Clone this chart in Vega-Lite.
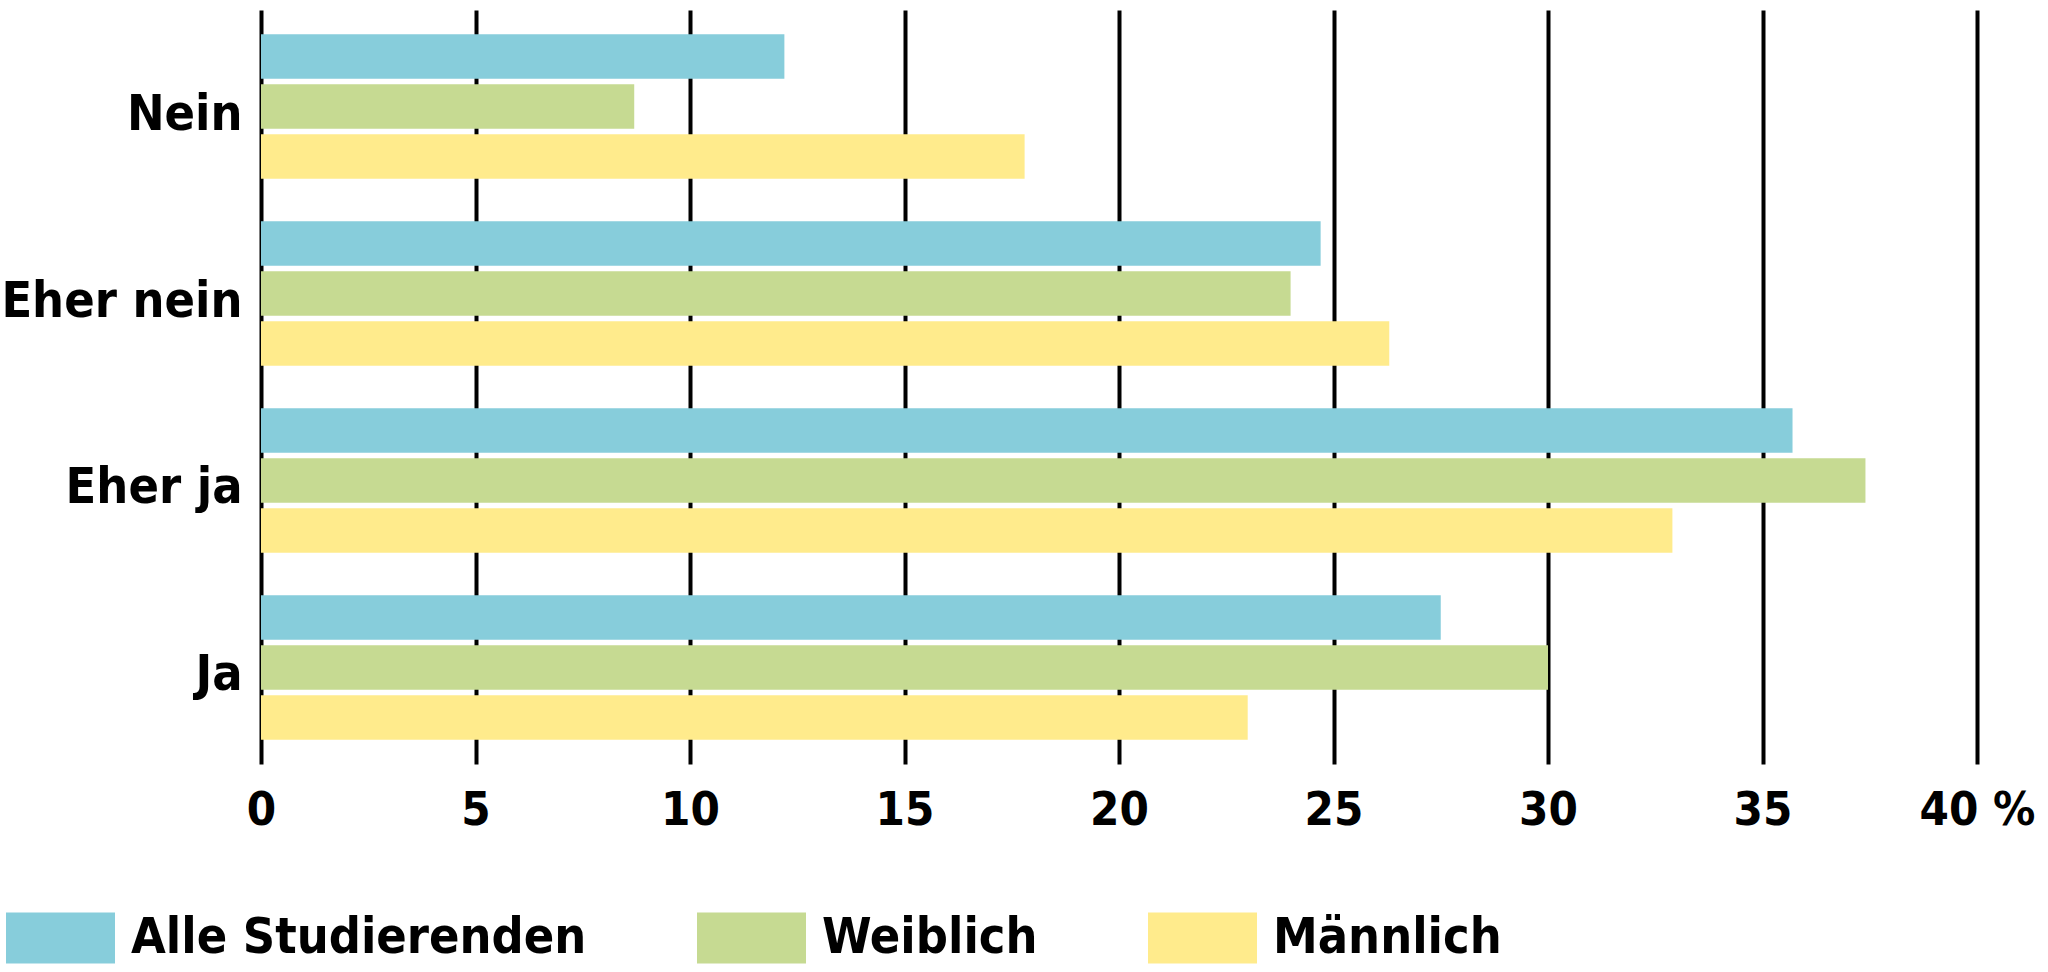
{
  "$schema": "https://vega.github.io/schema/vega-lite/v6.json",
  "width": 1716,
  "height": 754,
  "autosize": {"type": "none"},
  "padding": {"left": 261, "top": 10, "right": 71, "bottom": 208},
  "background": "white",
  "config": {"view": {"stroke": null}, "font": "DejaVu Sans Condensed"},
  "data": {
    "values": [
      {"antwort": "Nein", "gruppe": "Alle Studierenden", "wert": 12.2},
      {"antwort": "Nein", "gruppe": "Weiblich", "wert": 8.7},
      {"antwort": "Nein", "gruppe": "Männlich", "wert": 17.8},
      {"antwort": "Eher nein", "gruppe": "Alle Studierenden", "wert": 24.7},
      {"antwort": "Eher nein", "gruppe": "Weiblich", "wert": 24.0},
      {"antwort": "Eher nein", "gruppe": "Männlich", "wert": 26.3},
      {"antwort": "Eher ja", "gruppe": "Alle Studierenden", "wert": 35.7},
      {"antwort": "Eher ja", "gruppe": "Weiblich", "wert": 37.4},
      {"antwort": "Eher ja", "gruppe": "Männlich", "wert": 32.9},
      {"antwort": "Ja", "gruppe": "Alle Studierenden", "wert": 27.5},
      {"antwort": "Ja", "gruppe": "Weiblich", "wert": 30.0},
      {"antwort": "Ja", "gruppe": "Männlich", "wert": 23.0}
    ]
  },
  "mark": {"type": "bar"},
  "encoding": {
    "y": {
      "field": "antwort",
      "type": "nominal",
      "sort": ["Nein", "Eher nein", "Eher ja", "Ja"],
      "scale": {"paddingInner": 0.227, "paddingOuter": 0.13},
      "axis": {
        "title": null,
        "ticks": false,
        "domain": false,
        "labelFont": "DejaVu Sans Condensed",
        "labelFontWeight": "bold",
        "labelFontSize": 50,
        "labelColor": "black",
        "labelPadding": 19,
        "labelOffset": 8,
        "labelLimit": 500
      }
    },
    "yOffset": {
      "field": "gruppe",
      "type": "nominal",
      "sort": ["Alle Studierenden", "Weiblich", "Männlich"],
      "scale": {"paddingInner": 0.11}
    },
    "x": {
      "field": "wert",
      "type": "quantitative",
      "scale": {"domain": [0, 40], "nice": false},
      "axis": {
        "title": null,
        "values": [0, 5, 10, 15, 20, 25, 30, 35, 40],
        "grid": true,
        "gridColor": "black",
        "gridWidth": 4,
        "gridOpacity": 1,
        "ticks": false,
        "domain": false,
        "labelExpr": "datum.value == 40 ? '40 %' : datum.label",
        "labelFont": "DejaVu Sans Condensed",
        "labelFontSize": 47,
        "labelFontWeight": "bold",
        "labelColor": "black",
        "labelPadding": 23,
        "labelFlush": false,
        "labelOverlap": false
      }
    },
    "color": {
      "field": "gruppe",
      "type": "nominal",
      "sort": ["Alle Studierenden", "Weiblich", "Männlich"],
      "scale": {
        "domain": ["Alle Studierenden", "Weiblich", "Männlich"],
        "range": ["#87CDDB", "#C6DA92", "#FFEB8C"]
      },
      "legend": {
        "title": null,
        "orient": "none",
        "legendX": -255,
        "legendY": 873,
        "direction": "horizontal",
        "symbolType": "M-1,-0.468L1,-0.468L1,0.468L-1,0.468Z",
        "symbolSize": 11881,
        "symbolStrokeWidth": 0,
        "symbolOpacity": 1,
        "labelFont": "DejaVu Sans Condensed",
        "labelFontSize": 50,
        "labelFontWeight": "bold",
        "labelColor": "black",
        "labelOffset": 16,
        "labelLimit": 700,
        "columnPadding": 110
      }
    }
  }
}
